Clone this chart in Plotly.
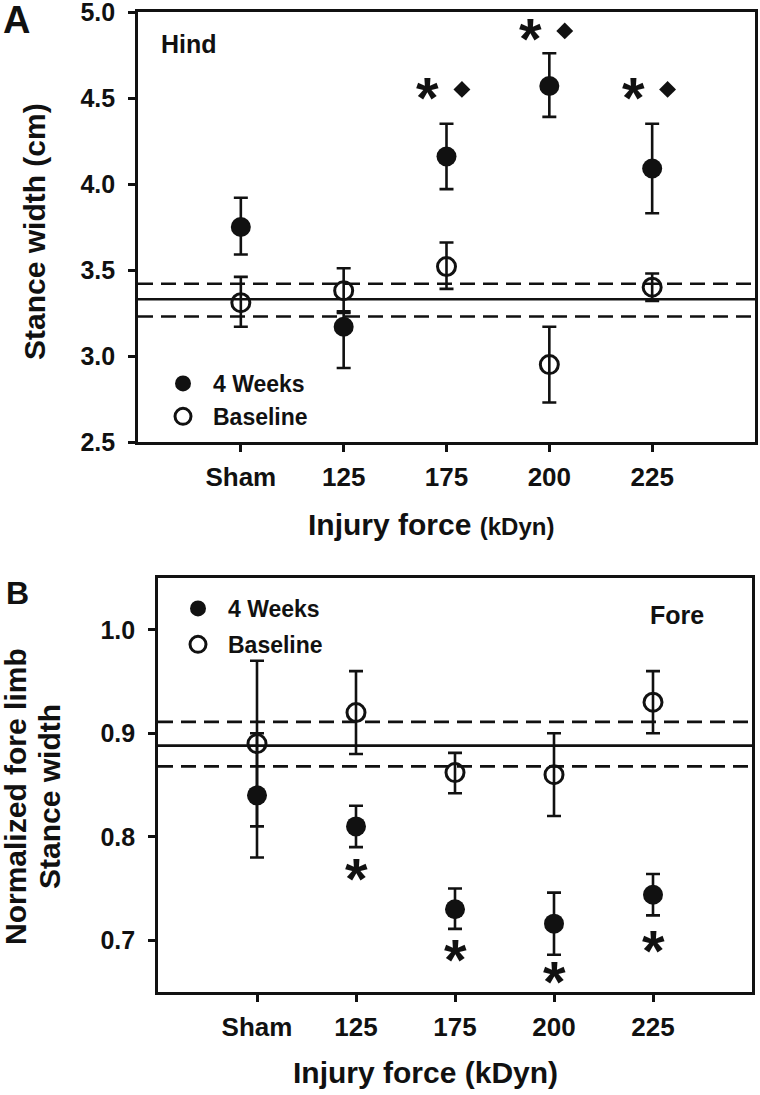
import plotly.graph_objects as go

# ---------------- data ----------------
categories = ["Sham", "125", "175", "200", "225"]
cat_pos = [1, 2, 3, 4, 5]

# Panel A (Hind) - stance width (cm)
hind_4wk_mean = [3.75, 3.17, 4.16, 4.57, 4.09]
hind_4wk_hi   = [3.92, 3.26, 4.35, 4.76, 4.35]
hind_4wk_lo   = [3.59, 2.93, 3.97, 4.39, 3.83]
hind_base_mean = [3.31, 3.38, 3.52, 2.95, 3.40]
hind_base_hi   = [3.46, 3.51, 3.66, 3.17, 3.48]
hind_base_lo   = [3.17, 3.25, 3.39, 2.73, 3.32]
hind_ref_mean = 3.33
hind_ref_band = [3.23, 3.42]
hind_sig_pos = [3, 4, 5]
hind_sig_y = [4.55, 4.89, 4.55]
hind_yticks = [2.5, 3.0, 3.5, 4.0, 4.5, 5.0]

# Panel B (Fore) - normalized fore limb stance width
fore_4wk_mean = [0.84, 0.81, 0.73, 0.716, 0.744]
fore_4wk_hi   = [0.90, 0.83, 0.75, 0.746, 0.764]
fore_4wk_lo   = [0.78, 0.79, 0.711, 0.686, 0.724]
fore_base_mean = [0.89, 0.92, 0.862, 0.86, 0.93]
fore_base_hi   = [0.97, 0.96, 0.881, 0.90, 0.96]
fore_base_lo   = [0.81, 0.88, 0.842, 0.82, 0.90]
fore_ref_mean = 0.888
fore_ref_band = [0.868, 0.911]
fore_sig_pos = [2, 3, 4, 5]
fore_sig_y = [0.767, 0.689, 0.668, 0.698]
fore_yticks = [0.7, 0.8, 0.9, 1.0]

# ---------------- style ----------------
FAM = "Liberation Sans, Arial, sans-serif"
W, H = 760, 1095
BLACK = "#111111"

def err(mean, hi, lo):
    return dict(type="data", symmetric=False,
                array=[h - m for h, m in zip(hi, mean)],
                arrayminus=[m - l for m, l in zip(mean, lo)],
                thickness=2.6, width=7, color=BLACK)

fig = go.Figure()

def add_panel(xa, ya, legend, tag, base_mean, base_hi, base_lo, wk_mean, wk_hi, wk_lo):
    fig.add_trace(go.Scatter(
        x=cat_pos, y=base_mean, mode="markers", name="Baseline",
        xaxis=xa, yaxis=ya, legend=legend, legendrank=2, legendgroup=tag + "b",
        marker=dict(symbol="circle-open", size=18, color=BLACK,
                    line=dict(width=3, color=BLACK)),
        error_y=err(base_mean, base_hi, base_lo), cliponaxis=False))
    fig.add_trace(go.Scatter(
        x=cat_pos, y=wk_mean, mode="markers", name="4 Weeks",
        xaxis=xa, yaxis=ya, legend=legend, legendrank=1, legendgroup=tag + "w",
        marker=dict(symbol="circle", size=20, color=BLACK),
        error_y=err(wk_mean, wk_hi, wk_lo), cliponaxis=False))

add_panel("x", "y", "legend", "A", hind_base_mean, hind_base_hi, hind_base_lo,
          hind_4wk_mean, hind_4wk_hi, hind_4wk_lo)
add_panel("x2", "y2", "legend2", "B", fore_base_mean, fore_base_hi, fore_base_lo,
          fore_4wk_mean, fore_4wk_hi, fore_4wk_lo)

# diamonds (panel A significance vs baseline)
fig.add_trace(go.Scatter(
    x=[p + 0.15 for p in hind_sig_pos], y=hind_sig_y, mode="markers",
    xaxis="x", yaxis="y", showlegend=False,
    marker=dict(symbol="diamond", size=13, color=BLACK), cliponaxis=False))

# reference lines
shapes = []
for xr, yr, m, band in [("x domain", "y", hind_ref_mean, hind_ref_band),
                        ("x2 domain", "y2", fore_ref_mean, fore_ref_band)]:
    shapes.append(dict(type="line", xref=xr, yref=yr, x0=0, x1=1, y0=m, y1=m,
                       line=dict(color=BLACK, width=2.6), layer="below"))
    for b in band:
        shapes.append(dict(type="line", xref=xr, yref=yr, x0=0, x1=1, y0=b, y1=b,
                           line=dict(color=BLACK, width=2.6, dash="15px,8px"),
                           layer="below"))

annotations = []
STAR = dict(family=FAM, size=58, color=BLACK, weight="bold")
# asterisks
for p, yv in zip(hind_sig_pos, hind_sig_y):
    annotations.append(dict(x=p, y=yv, xref="x", yref="y", text="*", showarrow=False,
                            xshift=-19, yshift=-8, font=STAR))
for p, yv in zip(fore_sig_pos, fore_sig_y):
    annotations.append(dict(x=p, y=yv, xref="x2", yref="y2", text="*", showarrow=False,
                            yshift=-8, font=STAR))

def ptext(text, xp, yp, size, xanchor="center", yanchor="middle", angle=0):
    annotations.append(dict(text=text, x=xp / W, y=1 - yp / H, xref="paper", yref="paper",
                            xanchor=xanchor, yanchor=yanchor, showarrow=False, textangle=angle,
                            font=dict(family=FAM, size=size, color=BLACK, weight="bold")))

ptext("A", 1, 20, 38, xanchor="left")
ptext("B", 4, 593, 32, xanchor="left")
ptext("Hind", 159, 44, 25, xanchor="left")
ptext("Fore", 648, 615, 25, xanchor="left")
ptext("Stance width (cm)", 35, 232, 30, angle=-90)
ptext("Normalized fore limb", 15, 797, 30, angle=-90)
ptext("Stance width", 49, 797, 30, angle=-90)
ptext("Injury force <span style='font-size:24px'>(kDyn)</span>", 431, 524, 30)
ptext("Injury force (kDyn)", 425, 1072, 30)

axis_common = dict(showline=True, mirror=True, linecolor=BLACK, linewidth=2.6,
                   ticks="outside", ticklen=7, tickwidth=2.6, tickcolor=BLACK,
                   showgrid=False, zeroline=False, ticklabeloverflow="allow")
xfont = dict(family=FAM, size=26, color=BLACK, weight="bold")
yfont = dict(family=FAM, size=25, color=BLACK, weight="bold")

legend_common = dict(font=dict(family=FAM, size=23, color=BLACK, weight="bold"),
                     bgcolor="rgba(0,0,0,0)", borderwidth=0, itemwidth=50,
                     xanchor="left", yanchor="top")

fig.update_layout(
    width=W, height=H, margin=dict(l=0, r=0, t=0, b=0, autoexpand=False),
    paper_bgcolor="white", plot_bgcolor="white",
    font=dict(family=FAM, color=BLACK, weight="bold"),
    xaxis=dict(domain=[138 / W, 755 / W], range=[0, 6], tickvals=cat_pos,
               ticktext=categories, tickfont=xfont, ticklabelstandoff=3,
               anchor="y", **axis_common),
    yaxis=dict(domain=[1 - 442 / H, 1 - 12 / H], range=[2.5, 5.0], tickvals=hind_yticks,
               tickformat=".1f", tickfont=yfont, ticklabelstandoff=8,
               anchor="x", **axis_common),
    xaxis2=dict(domain=[158 / W, 752 / W], range=[0, 6], tickvals=cat_pos,
                ticktext=categories, tickfont=xfont, ticklabelstandoff=3,
                anchor="y2", **axis_common),
    yaxis2=dict(domain=[1 - 992 / H, 1 - 578 / H], range=[0.65, 1.05],
                tickvals=fore_yticks, tickformat=".1f", tickfont=yfont,
                ticklabelstandoff=8, anchor="x2", **axis_common),
    legend=dict(x=153 / W, y=1 - 362 / H, tracegroupgap=0, **legend_common),
    legend2=dict(x=168 / W, y=1 - 587 / H, tracegroupgap=3, **legend_common),
    shapes=shapes, annotations=annotations, showlegend=True,
)

fig.write_html("out.html", config={"displayModeBar": False},
               post_script="document.body.style.margin='0';document.body.style.padding='0';")
